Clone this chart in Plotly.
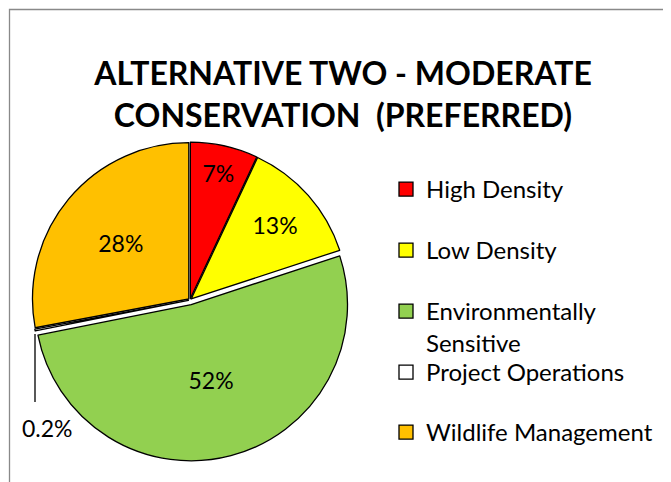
import plotly.graph_objects as go

labels = ["High Density", "Low Density", "Environmentally Sensitive", "Project Operations", "Wildlife Management"]
legend_labels = ["High Density", "Low Density", "Environmentally<br>Sensitive", "Project Operations", "Wildlife Management"]
values = [7, 13, 52, 0.2, 28]
text_labels = ["7%", "13%", "52%", "0.2%", "28%"]
colors = ["#FF0000", "#FFFF00", "#92D050", "#FFFFFF", "#FFC000"]
pulls = [0.01, 0.01, 0.03, 0.01, 0.01]

# page body has an 8px default margin: work in window pixels and convert
OFF = 8
W, H = 671 - OFF, 482 - OFF
FONT = "Lato"


def px(x):
    return (x - OFF) / W


def py(y):
    return 1 - (y - OFF) / H


fig = go.Figure()
fig.add_trace(go.Pie(
    labels=labels, values=values, text=text_labels, textinfo="text",
    textposition=["inside", "inside", "inside", "none", "inside"],
    insidetextorientation="horizontal",
    sort=False, direction="clockwise", rotation=0,
    pull=pulls, automargin=False,
    marker=dict(colors=colors, line=dict(color="black", width=1.3)),
    textfont=dict(family=FONT, size=23, color="black"),
    domain=dict(x=[px(190 - 161), px(190 + 161)], y=[py(300 + 161), py(300 - 161)]),
    showlegend=False, hoverinfo="label+percent",
))

legend_y = [190, 251, 312, 373, 433]
for i, (lab, col) in enumerate(zip(legend_labels, colors)):
    lname = "legend" if i == 0 else f"legend{i+1}"
    fig.add_trace(go.Scatter(
        x=[None], y=[None], mode="markers", name=lab,
        marker=dict(symbol="square", size=14, color=col, line=dict(color="black", width=1.3)),
        legend=lname, showlegend=True,
    ))
    fig.update_layout({lname: dict(
        x=px(386), y=py(legend_y[i] - 23), xanchor="left", yanchor="top",
        bgcolor="rgba(0,0,0,0)", font=dict(family=FONT, size=24, color="black"),
        itemwidth=30, valign="top",
    )})

fig.update_layout(
    width=W, height=H,
    margin=dict(l=0, r=0, t=0, b=0, autoexpand=False),
    paper_bgcolor="white", plot_bgcolor="white",
    title=dict(
        text="<b>ALTERNATIVE TWO - MODERATE<br>CONSERVATION  (PREFERRED)</b>",
        x=px(343), xanchor="center", y=py(85), yanchor="top",
        font=dict(family=FONT, size=32, color="black"),
    ),
    xaxis=dict(visible=False), yaxis=dict(visible=False),
    annotations=[
        dict(text=" ", xref="paper", yref="paper",
             x=px(35), y=py(334), ax=0, ay=72,
             showarrow=True, arrowhead=0, arrowwidth=1.3, arrowcolor="black",
             font=dict(family=FONT, size=4, color="black")),
        dict(text=text_labels[3], xref="paper", yref="paper",
             x=px(47), y=py(428), showarrow=False,
             xanchor="center", yanchor="middle",
             font=dict(family=FONT, size=23, color="black")),
    ],
    shapes=[dict(type="rect", xref="paper", yref="paper",
                 x0=px(9.5), x1=1.2, y0=-0.2, y1=py(9.5),
                 line=dict(color="#898989", width=1.3), layer="below")],
)

fig.write_html("out.html")
